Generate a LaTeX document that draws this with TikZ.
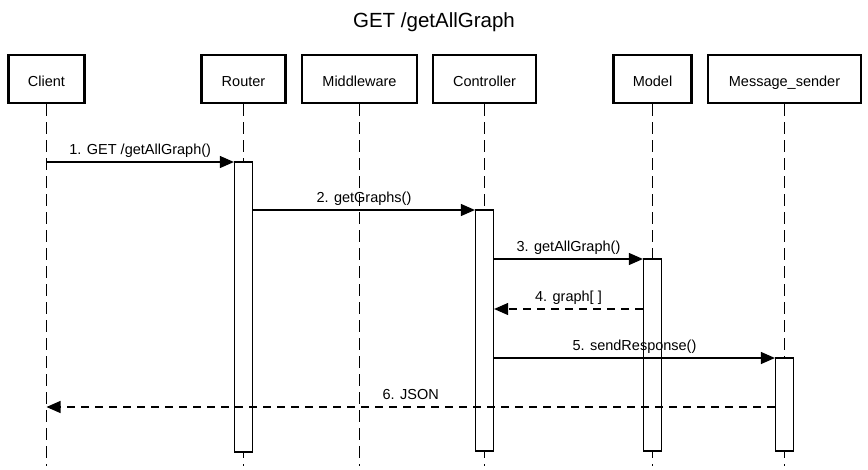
\documentclass[tikz,border=0pt]{standalone}
\usepackage{fontspec}
\setmainfont{Liberation Sans}
\usetikzlibrary{arrows.meta}
\begin{document}
\begin{tikzpicture}[x=1pt,y=-1pt,
  every node/.style={font=\fontsize{14.5}{17}\selectfont},
  pbox/.style={draw, line width=2.1pt, fill=white, minimum height=48pt, inner sep=0pt, text height=14pt, text depth=0pt},
  lifeline/.style={line width=1.6pt, dash pattern=on 12pt off 6pt},
  actbar/.style={draw, line width=1.2pt, fill=white, minimum width=18pt, inner sep=0pt},
  msg/.style={line width=1.1pt, -{Triangle[length=14pt,width=12pt]}},
  ret/.style={msg, dash pattern=on 8pt off 6pt},
  lbl/.style={anchor=base, yshift=7.5pt, inner sep=0pt}
]
\path[use as bounding box] (0,0) rectangle (868,469);

\node[anchor=base, font=\fontsize{20.5}{24}\selectfont] (title) at (434,27) {GET /getAllGraph};

% participants
\node[pbox, minimum width=76pt]  (client) at (46.5,79)  {Client};
\node[pbox, minimum width=84pt]  (router) at (243.5,79) {Router};
\node[pbox, minimum width=115pt] (mid)    at (359.5,79) {Middleware};
\node[pbox, minimum width=103pt] (ctrl)   at (484.5,79) {Controller};
\node[pbox, minimum width=78pt]  (model)  at (652.5,79) {Model};
\node[pbox, minimum width=153pt] (msend)  at (784.5,79) {Message\_sender};

% lifeline ends
\coordinate (e1) at (46.5,466);
\coordinate (e2) at (243.5,466);
\coordinate (e3) at (359.5,466);
\coordinate (e4) at (484.5,466);
\coordinate (e5) at (652.5,466);
\coordinate (e6) at (784.5,466);
\draw[lifeline] (client.south) -- (e1);
\draw[lifeline] (router.south) -- (e2);
\draw[lifeline] (mid.south) -- (e3);
\draw[lifeline] (ctrl.south) -- (e4);
\draw[lifeline] (model.south) -- (e5);
\draw[lifeline] (msend.south) -- (e6);

% activation bars
\node[actbar, minimum height=290pt] (rbar) at (243.5,307)   {};
\node[actbar, minimum height=241pt] (cbar) at (484.5,330.5) {};
\node[actbar, minimum height=192pt] (mbar) at (652.5,355)   {};
\node[actbar, minimum height=93pt]  (sbar) at (784.5,404.5) {};

% message levels
\coordinate (y1) at (0,162);
\coordinate (y2) at (0,210);
\coordinate (y3) at (0,259);
\coordinate (y4) at (0,309);
\coordinate (y5) at (0,358);
\coordinate (y6) at (0,407);

\draw[msg] (client.south |- y1) -- node[lbl] {1. GET /getAllGraph()} (rbar.west |- y1);
\draw[msg] (rbar.east |- y2) -- node[lbl] {2. getGraphs()} (cbar.west |- y2);
\draw[msg] (cbar.east |- y3) -- node[lbl] {3. getAllGraph()} (mbar.west |- y3);
\draw[ret] (mbar.west |- y4) -- node[lbl] {4. graph[ ]} (cbar.east |- y4);
\draw[msg] (cbar.east |- y5) -- node[lbl] {5. sendResponse()} (sbar.west |- y5);
\draw[ret] (sbar.west |- y6) -- node[lbl] {6. JSON} (client.south |- y6);
\end{tikzpicture}
\end{document}
